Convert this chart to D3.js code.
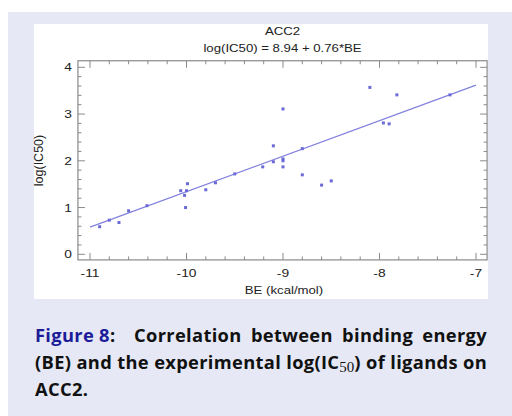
<!DOCTYPE html>
<html lang="en">
<head>
<script src="https://d3js.org/d3.v7.min.js"></script>
<style>
  body { margin: 0; width: 512px; height: 416px; background: #fff; position: relative; overflow: hidden; }
  #caption {
    position: absolute; left: 35px; top: 321px; width: 452px;
    font-family: "Open Sans", sans-serif; font-weight: bold; font-size: 18.3px;
    color: #111; line-height: 27px;
  }
  #caption .ln { text-align: justify; text-align-last: justify; white-space: nowrap; }
  #caption .last { text-align: left; white-space: nowrap; }
  #caption .fig { color: #1c1c9a; display: inline-block; }
  #caption sub { font-family: "Liberation Serif", serif; font-weight: normal; font-size: 15px; vertical-align: -3px; line-height: 0; letter-spacing: 0; }
</style>
</head>
<body>
<div id="chart"></div>
<div id="caption">
  <div class="ln"><span class="fig">Figure 8</span>:&nbsp; Correlation between binding energy</div>
  <div class="ln" id="ln2"><span id="ln2in">(BE) and the experimental log(IC<sub>50</sub>) of ligands on</span></div>
  <div class="last">ACC2.</div>
</div>
<script>
  // binding energy (kcal/mol) vs experimental log(IC50)
  var be = [-10.9, -10.8, -10.7, -10.6, -10.41, -10.06, -10.02, -9.99, -10.0, -10.01,
            -9.8, -9.7, -9.5, -9.21, -9.1, -9.1, -9.0, -9.0, -9.0, -9.0,
            -8.8, -8.8, -8.6, -8.5, -8.1, -7.96, -7.9, -7.82, -7.27];
  var logIC50 = [0.59, 0.73, 0.68, 0.93, 1.04, 1.36, 1.26, 1.51, 1.36, 1.0,
                 1.38, 1.53, 1.72, 1.87, 2.32, 1.98, 3.11, 2.04, 2.0, 1.87,
                 2.26, 1.70, 1.48, 1.57, 3.57, 2.81, 2.79, 3.41, 3.41];
  var intercept = 8.94, slope = 0.76;
  var xTicks = [-11, -10, -9, -8, -7];
  var yTicks = [0, 1, 2, 3, 4];

  // line 2 of the caption has natural spacing in the original: stretch letters to fill it
  function fitCaption() {
    var cap = document.getElementById("caption");
    var ln2 = document.getElementById("ln2");
    cap.style.letterSpacing = "0px";
    ln2.style.textAlign = "left";
    ln2.style.textAlignLast = "left";
    var inner = document.getElementById("ln2in");
    var w = inner.getBoundingClientRect().width;
    var n = inner.textContent.length;
    var ls = (452 - w) / n;
    cap.style.letterSpacing = ls.toFixed(2) + "px";
    ln2.style.textAlign = "";
    ln2.style.textAlignLast = "";
  }
  fitCaption();
  if (document.fonts && document.fonts.ready) document.fonts.ready.then(fitCaption);

  var width = 512, height = 416;
  var svg = d3.select("#chart").append("svg")
      .attr("width", width).attr("height", height)
      .style("position", "absolute").style("left", 0).style("top", 0);

  svg.append("rect").attr("x", 8).attr("y", 12).attr("width", 504).attr("height", 404)
      .attr("fill", "#e6e9f5");
  svg.append("rect").attr("x", 34).attr("y", 24).attr("width", 454).attr("height", 275)
      .attr("fill", "#fff");

  var x = d3.scaleLinear().domain([-11, -7]).range([90, 476]);
  var y = d3.scaleLinear().domain([0, 4]).range([254.3, 67.3]);

  var x0 = x(-11.125), x1 = x(-6.885), y0 = y(-0.12), y1 = y(4.14);

  var axisColor = "#8a8a8a";
  var g = svg.append("g");

  // minor + major ticks, inward on all four sides
  var xt = d3.range(-11, -6.99, 0.2);
  xt.forEach(function (v) {
    var major = Math.abs(v - Math.round(v)) < 1e-6;
    var len = major ? 7 : 3.5;
    g.append("line").attr("x1", x(v)).attr("x2", x(v)).attr("y1", y0).attr("y2", y0 - len)
      .attr("stroke", axisColor).attr("stroke-width", 1);
    g.append("line").attr("x1", x(v)).attr("x2", x(v)).attr("y1", y1).attr("y2", y1 + len)
      .attr("stroke", axisColor).attr("stroke-width", 1);
  });
  var yt = d3.range(0, 4.01, 0.2);
  yt.forEach(function (v) {
    var major = Math.abs(v - Math.round(v)) < 1e-6;
    var len = major ? 7 : 3.5;
    g.append("line").attr("x1", x0).attr("x2", x0 + len).attr("y1", y(v)).attr("y2", y(v))
      .attr("stroke", axisColor).attr("stroke-width", 1);
    g.append("line").attr("x1", x1).attr("x2", x1 - len).attr("y1", y(v)).attr("y2", y(v))
      .attr("stroke", axisColor).attr("stroke-width", 1);
  });

  g.append("rect").attr("x", x0).attr("y", y1).attr("width", x1 - x0).attr("height", y0 - y1)
      .attr("fill", "none").attr("stroke", axisColor).attr("stroke-width", 1.2);

  var font = "'Liberation Sans', Arial, sans-serif";

  // the original plot image is stretched sideways, so its text is too
  function stext(parent, px, py, anchor, str, size) {
    return parent.append("text")
      .attr("transform", "translate(" + px + "," + py + ") scale(1.2,1)")
      .attr("text-anchor", anchor).attr("font-family", font).attr("font-size", size || 11)
      .attr("fill", "#222").text(str);
  }

  xTicks.forEach(function (d) { stext(g, x(d), 277, "middle", d, 11.5); });
  yTicks.forEach(function (d) { stext(g, x0 - 6, y(d) + 4, "end", d, 11.5); });

  // regression line
  var line = d3.line().x(function (d) { return x(d); }).y(function (d) { return y(intercept + slope * d); });
  g.append("path").datum([-11, -7]).attr("d", line)
      .attr("stroke", "#8080dd").attr("stroke-width", 1.2).attr("fill", "none");

  // points
  g.selectAll(".pt").data(be).enter().append("rect")
      .attr("x", function (d) { return x(d) - 1.5; })
      .attr("y", function (d, i) { return y(logIC50[i]) - 1.5; })
      .attr("width", 3).attr("height", 3).attr("fill", "#6a6ad8");

  stext(svg, 282.5, 34.5, "middle", "ACC2", 11);
  stext(svg, 282.5, 51.5, "middle",
        "log(IC50) = " + intercept.toFixed(2) + " + " + slope.toFixed(2) + "*BE", 11);
  stext(svg, 284, 294, "middle", "BE (kcal/mol)", 11);
  svg.append("text").attr("transform", "translate(43,160.5) rotate(-90)").attr("text-anchor", "middle")
      .attr("font-family", font).attr("font-size", 12.5).attr("fill", "#222").text("log(IC50)");
</script>
</body>
</html>
